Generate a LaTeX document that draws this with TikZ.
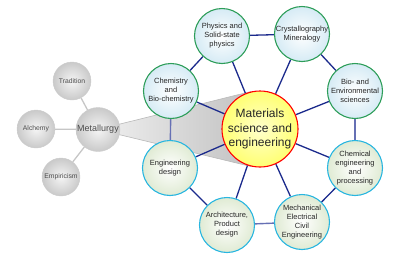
\documentclass[tikz,border=0pt]{standalone}
\usepackage{fontspec}
\setmainfont{Liberation Sans}
\usetikzlibrary{calc,backgrounds}
\definecolor{navy}{HTML}{1B2A8C}
\definecolor{slate}{HTML}{6670B4}
\definecolor{leafgreen}{HTML}{2E9E5A}
\definecolor{skycyan}{HTML}{29B6E0}
\definecolor{paleblue}{HTML}{D6EBF5}
\definecolor{palegreen}{HTML}{E0EBD4}

\begin{document}
\begin{tikzpicture}[x=1pt,y=-1pt,
  every node/.style={font=\fontsize{7.5}{9}\selectfont,text=black!85},
  bubble/.style={circle,line width=1.1pt,minimum size=55pt,inner sep=0pt,align=center},
  sci/.style={bubble,draw=leafgreen,inner color=white,outer color=paleblue},
  eng/.style={bubble,draw=skycyan,inner color=white,outer color=palegreen},
  hist/.style={circle,draw=gray!40,minimum size=38pt,inner sep=0pt,inner color=gray!8,outer color=gray!42,text=black!70,font=\fontsize{6.8}{8}\selectfont},
  link/.style={navy,line width=1.3pt},
  softlink/.style={slate,line width=1.4pt},
  oldlink/.style={gray!45,line width=1.3pt}]
  \useasboundingbox (0,0) rectangle (400,255);

  \node[circle,draw=red,line width=1.1pt,minimum size=76pt,inner sep=0pt,align=center,inner color=yellow!20,outer color=yellow!55,font=\fontsize{12}{14.5}\selectfont] (mat) at (260,129) {Materials\\science and\\engineering};

  \node[sci] (phy) at (222,36) {Physics and\\Solid-state\\physics};
  \node[sci] (cry) at (302,34) {Crystallography\\Mineralogy};
  \node[sci] (bio) at (355,91) {Bio- and\\Environmental\\sciences};
  \node[sci] (chem) at (171,91) {Chemistry\\and\\Bio-chemistry};
  \node[eng] (cheng) at (355,168) {Chemical\\engineering\\and\\processing};
  \node[eng] (mech) at (302,222) {Mechanical\\Electrical\\Civil\\Engineering};
  \node[eng] (arch) at (227,225) {Architecture,\\Product\\design};
  \node[eng] (engd) at (170,168) {Engineering\\design};

  \node[hist,minimum size=44pt,font=\fontsize{9}{10}\selectfont] (met) at (98,129.5) {Metallurgy};
  \node[hist] (trad) at (72,81) {Tradition};
  \node[hist] (alch) at (36,129) {Alchemy};
  \node[hist] (emp) at (61,177) {Empiricism};

  \begin{scope}[on background layer]
    \draw[gray!55,line width=0.6pt,left color=gray!12,right color=gray!50]
      (met.center) -- (tangent cs:node=mat,point={(met.center)},solution=1)
      -- (mat.center) -- (tangent cs:node=mat,point={(met.center)},solution=2) -- cycle;
    \draw[oldlink] (met) -- (trad);
    \draw[oldlink] (met) -- (alch);
    \draw[oldlink] (met) -- (emp);
    \draw[link] (phy) -- (cry);
    \draw[link] (phy) -- (chem);
    \draw[link] (cry) -- (bio);
    \draw[link] (cheng) -- (mech);
    \draw[link] (arch) -- (engd);
    \draw[softlink] (chem) -- (engd);
    \draw[softlink] (bio) -- (cheng);
    \draw[softlink] (arch) -- (mech);
    \foreach \n in {phy,cry,bio,cheng,mech,arch,engd,chem}
      \draw[link] (mat) -- (\n);
  \end{scope}
\end{tikzpicture}
\end{document}
